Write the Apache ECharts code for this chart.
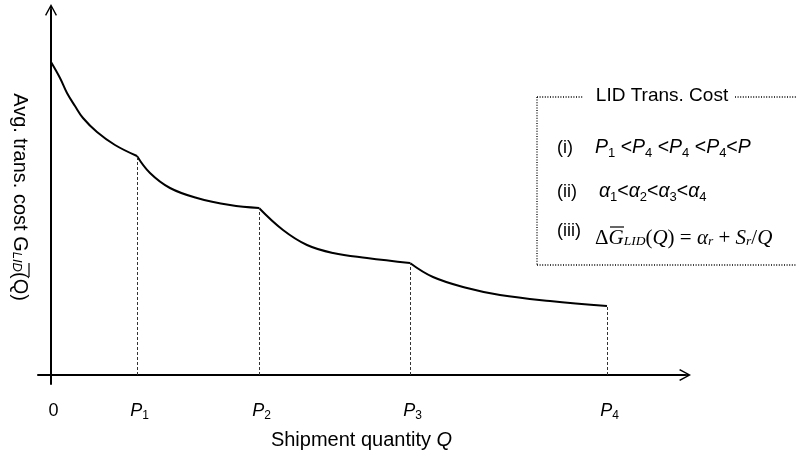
<!DOCTYPE html>
<html>
<head>
<meta charset="utf-8">
<style>
  html, body { margin: 0; padding: 0; background: #fff; }
  #chart { width: 797px; height: 455px; }
</style>
<script src="https://cdn.jsdelivr.net/npm/echarts@6/dist/echarts.min.js"></script>
</head>
<body>
<div id="chart"></div>
<script>
// Break points on the quantity axis and their labels
const breakQ = [0, 86, 208, 359, 556];
const breakLabels = ['0', 'P1', 'P2', 'P3', 'P4'];

// Average transportation cost, one piece per quantity range (Q, cost)
const seg1Q = [0, 9, 16, 24, 32, 46, 64, 86];
const seg1Cost = [313, 297, 282, 269, 257, 243, 230, 219];
const seg2Q = [86, 99, 119, 146, 179, 208];
const seg2Cost = [219, 202, 187, 177, 170, 167];
const seg3Q = [208, 232, 256, 282, 316, 359];
const seg3Cost = [167, 145, 130, 122, 117, 112];
const seg4Q = [359, 382, 416, 449, 499, 556];
const seg4Cost = [112, 98, 87, 80, 74, 69];

const segments = [[seg1Q, seg1Cost], [seg2Q, seg2Cost], [seg3Q, seg3Cost], [seg4Q, seg4Cost]];

const SANS = 'Liberation Sans, Arial, sans-serif';
const SERIF = 'Liberation Serif, Times New Roman, serif';

// open arrow head with a short stem, tip pointing up
const arrowHead = 'path://M6,0 L12,11 L10.8,11.8 L6,2.8 L1.2,11.8 L0,11 Z M5.25,1.5 L6.75,1.5 L6.75,12 L5.25,12 Z';

const pairs = (qs, cs) => qs.map((q, i) => [q, cs[i]]);

// dotted drop lines from each break point of the curve down to the axis
const dropLines = segments.map(([qs, cs]) => {
  const q = qs[qs.length - 1];
  const c = cs[cs.length - 1];
  return [{ coord: [q, 0] }, { coord: [q, c] }];
});

const tickRich = {
  p: { fontFamily: SANS, fontSize: 18, fontStyle: 'italic', color: '#000' },
  s: { fontFamily: SANS, fontSize: 12, color: '#000', verticalAlign: 'bottom', padding: [0, 0, -2, 0] },
  n: { fontFamily: SANS, fontSize: 18, color: '#000' }
};
const panelRich = {
  p: { fontFamily: SANS, fontSize: 19.5, fontStyle: 'italic', color: '#000' },
  s: { fontFamily: SANS, fontSize: 13, color: '#000', verticalAlign: 'bottom', padding: [0, 0, -2, 0] },
  n: { fontFamily: SANS, fontSize: 19.5, color: '#000' }
};

const labelFor = (v) => {
  const idx = breakQ.indexOf(v);
  if (idx < 0) return '';
  const t = breakLabels[idx];
  if (t.length === 1) return '{n|' + t + '}';
  return '{p|' + t[0] + '}{s|' + t.slice(1) + '}';
};

const series = segments.map(([qs, cs], i) => ({
  type: 'line',
  data: pairs(qs, cs),
  smooth: 0.4,
  showSymbol: false,
  symbol: 'none',
  silent: true,
  lineStyle: { color: '#000', width: 2 },
  markLine: i === 0 ? {
    silent: true,
    symbol: 'none',
    label: { show: false },
    lineStyle: { color: '#333', width: 1, type: [3, 2] },
    data: dropLines
  } : undefined
}));

const dotted = { stroke: '#000', lineWidth: 1.3, lineDash: [1, 1.6] };
const plain = (x, y, text, size) => ({
  type: 'text', x: x, y: y,
  style: { text: text, font: size + 'px ' + SANS, fill: '#000', verticalAlign: 'middle' }
});

const chart = echarts.init(document.getElementById('chart'), null, { renderer: 'canvas' });
chart.setOption({
  animation: false,
  backgroundColor: '#fff',
  grid: { left: 38, right: 112, top: 10, bottom: 71, outerBoundsMode: 'none', containLabel: false },
  xAxis: {
    type: 'value',
    min: -13,
    max: 634,
    name: '{n|Shipment quantity }{q|Q}',
    nameLocation: 'middle',
    nameGap: 46,
    nameTextStyle: {
      rich: {
        n: { fontFamily: SANS, fontSize: 20, color: '#000' },
        q: { fontFamily: SANS, fontSize: 20, fontStyle: 'italic', color: '#000' }
      }
    },
    axisLine: {
      onZero: true,
      symbol: ['none', arrowHead],
      symbolSize: [12, 12],
      lineStyle: { color: '#000', width: 2 }
    },
    axisTick: { show: false },
    splitLine: { show: false },
    axisLabel: {
      customValues: breakQ,
      margin: 18,
      padding: [0, 0, 0, 5],
      formatter: labelFor,
      rich: tickRich
    }
  },
  yAxis: {
    type: 'value',
    min: -9,
    max: 365,
    name: '{n|Avg. trans. cost G}{s|LID}{n|(Q)}',
    nameLocation: 'middle',
    nameRotate: -90,
    nameGap: 8,
    nameTextStyle: {
      rich: {
        n: { fontFamily: SANS, fontSize: 20, color: '#000' },
        s: { fontFamily: SANS, fontSize: 13, fontStyle: 'italic', color: '#000', verticalAlign: 'bottom' }
      }
    },
    axisLine: {
      onZero: true,
      symbol: ['none', arrowHead],
      symbolSize: [13, 12],
      lineStyle: { color: '#000', width: 2 }
    },
    axisTick: { show: false },
    axisLabel: { show: false },
    splitLine: { show: false }
  },
  series: series,
  graphic: [
    // bar over the cost symbol in the axis name
    { type: 'line', shape: { x1: 29, y1: 263, x2: 29, y2: 277 }, style: { stroke: '#000', lineWidth: 1.2 } },
    // legend panel
    { type: 'line', shape: { x1: 537, y1: 97, x2: 537, y2: 265 }, style: dotted },
    { type: 'line', shape: { x1: 537, y1: 265, x2: 797, y2: 265 }, style: dotted },
    { type: 'line', shape: { x1: 537, y1: 97, x2: 583, y2: 97 }, style: dotted },
    { type: 'line', shape: { x1: 735, y1: 97, x2: 797, y2: 97 }, style: dotted },
    {
      type: 'text', x: 662, y: 96,
      style: { text: 'LID Trans. Cost', font: '19px ' + SANS, fill: '#000', align: 'center', verticalAlign: 'middle' }
    },
    plain(557, 148, '(i)', 18),
    {
      type: 'text', x: 595, y: 148,
      style: {
        text: '{p|P}{s|1}{n| <}{p|P}{s|4}{n| <}{p|P}{s|4}{n| <}{p|P}{s|4}{n|<}{p|P}',
        verticalAlign: 'middle',
        rich: panelRich
      }
    },
    plain(557, 192, '(ii)', 18),
    {
      type: 'text', x: 599, y: 192,
      style: {
        text: '{p|α}{s|1}{n|<}{p|α}{s|2}{n|<}{p|α}{s|3}{n|<}{p|α}{s|4}',
        verticalAlign: 'middle',
        rich: panelRich
      }
    },
    plain(557, 231, '(iii)', 18),
    {
      type: 'text', x: 595, y: 238,
      style: {
        text: '{t|Δ}{i|G}{b|LID}{t|(}{i|Q}{t|) = }{i|α}{b|r}{t| + }{i|S}{b|r}{t|/}{i|Q}',
        verticalAlign: 'middle',
        rich: {
          t: { fontFamily: SERIF, fontSize: 21, color: '#000' },
          i: { fontFamily: SERIF, fontSize: 21, fontStyle: 'italic', color: '#000' },
          b: { fontFamily: SERIF, fontSize: 13.5, fontStyle: 'italic', color: '#000', verticalAlign: 'bottom' }
        }
      }
    },
    // bar over G in the formula
    { type: 'line', shape: { x1: 610, y1: 227, x2: 624, y2: 227 }, style: { stroke: '#000', lineWidth: 1.2 } }
  ]
});
</script>
</body>
</html>
